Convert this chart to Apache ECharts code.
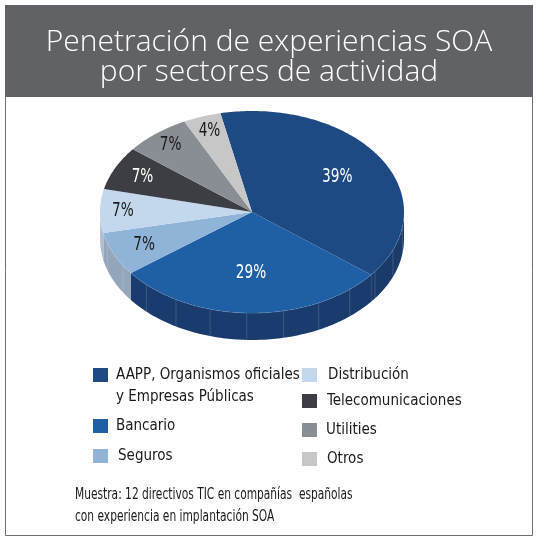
<!DOCTYPE html>
<html>
<head>
<meta charset="utf-8">
<title>Penetración de experiencias SOA</title>
<script src="https://cdn.jsdelivr.net/npm/echarts@6/dist/echarts.min.js"></script>
<style>
  html, body { margin: 0; padding: 0; background: #fff; }
  #main { width: 538px; height: 543px; }
</style>
</head>
<body>
<div id="main"></div>
<script>
// datos del grafico
var categories = ['AAPP, Organismos oficiales\ny Empresas Públicas', 'Bancario', 'Seguros', 'Distribución', 'Telecomunicaciones', 'Utilities', 'Otros'];
var values = [39, 29, 7, 7, 7, 7, 4];
var colors = ['#1d4a83', '#1f5fa5', '#8fb4d8', '#c3d8ec', '#3c3e43', '#898d94', '#c7c7c7'];
var sideColors = ['#1a3a69', '#1a3b6d', '#93a6bb', '#adbfd1', '#2f3135', '#6f7278', '#a9a9a9'];
var labelColors = ['#fff', '#fff', '#1a1a1a', '#1a1a1a', '#fff', '#1a1a1a', '#1a1a1a'];
var labelRadius = [0.66, 0.6, 0.78, 0.85, 0.8, 0.85, 0.85];

// leyenda: [izq, centro y, desplazamiento texto]
var legendPos = [[93, 375, 3], [93, 426, 3], [93, 456, 5], [302, 375, 6], [302, 401, 5], [302, 430, 4], [302, 459, 5]];

var narrow = "'DejaVu Sans Condensed', 'Liberation Sans Narrow', sans-serif";
var cx = 252, cy = 212, rx = 152, ry = 101, depth = 27, startAngle = -12;

var total = values.reduce(function (a, b) { return a + b; }, 0);
var starts = [];
var acc = startAngle;
values.forEach(function (v) { starts.push(acc); acc += v / total * 360; });

function pt(t, dy) {
    var r = t * Math.PI / 180;
    return [cx + rx * Math.sin(r), cy - ry * Math.cos(r) + (dy || 0)];
}
function arc(a, b, dy) {
    var pts = [];
    var n = Math.max(2, Math.ceil(Math.abs(b - a)));
    for (var k = 0; k <= n; k++) pts.push(pt(a + (b - a) * k / n, dy));
    return pts;
}

function renderSlice(params, api) {
    var i = params.seriesIndex;
    var a = starts[i];
    var b = a + api.value(0) / total * 360;
    var children = [];
    // lateral (solo la mitad inferior es visible)
    var sa = Math.max(a, 90), sb = Math.min(b, 270);
    if (sb > sa) {
        var pts = arc(sa, sb, 0).concat(arc(sb, sa, depth));
        children.push({ type: 'polygon', shape: { points: pts }, style: { fill: sideColors[i] }, z2: 1 });
        for (var f = Math.ceil(sa / 14) * 14; f < sb; f += 14) {
            var p0 = pt(f, 0), p1 = pt(f, depth);
            children.push({ type: 'line', shape: { x1: p0[0], y1: p0[1], x2: p1[0], y2: p1[1] },
                style: { stroke: 'rgba(255,255,255,0.22)', lineWidth: 0.7 }, z2: 2 });
        }
        children.push({ type: 'polyline', shape: { points: arc(sa, sb, 0) },
            style: { stroke: 'rgba(255,255,255,0.25)', lineWidth: 0.8, fill: null }, z2: 3 });
    }
    // cara superior
    children.push({ type: 'polygon', shape: { points: [[cx, cy]].concat(arc(a, b, 0)) },
        style: { fill: colors[i] }, z2: 4 });
    // etiqueta
    var m = (a + b) / 2 * Math.PI / 180;
    children.push({ type: 'text', z2: 5, scaleX: 0.76,
        x: cx + labelRadius[i] * rx * Math.sin(m), y: cy - labelRadius[i] * ry * Math.cos(m),
        style: { text: api.value(0) + '%', fill: labelColors[i], font: '20px ' + narrow,
            align: 'center', verticalAlign: 'middle' } });
    return { type: 'group', children: children };
}

var series = categories.map(function (c, i) {
    return {
        type: 'custom', name: c, coordinateSystem: 'none',
        itemStyle: { color: colors[i] },
        renderItem: renderSlice,
        data: [[values[i]]],
        silent: true
    };
});

var legends = categories.map(function (c, i) {
    var lines = c.split('\n').length;
    var nLines = lines > 1 ? lines + 1 : 1;
    return {
        data: [c], left: legendPos[i][0], top: legendPos[i][1] - nLines * 11,
        padding: 0, itemWidth: 15, itemHeight: 14, icon: 'rect',
        selectedMode: false,
        formatter: function (name) { return name.indexOf('\n') >= 0 ? '\n' + name : name; },
        textStyle: { fontFamily: narrow, fontSize: 15, lineHeight: 22, color: '#1a1a1a',
            padding: [0, 0, 0, legendPos[i][2]] }
    };
});

var chart = echarts.init(document.getElementById('main'));
chart.setOption({
    animation: false,
    title: {
        text: 'Penetración de experiencias SOA\npor sectores de actividad',
        left: 'center', top: 22,
        textStyle: { color: '#fff', fontFamily: 'Open Sans', fontWeight: 300, fontSize: 30, lineHeight: 30 }
    },
    graphic: [
        { type: 'rect', shape: { x: 5.5, y: 5.5, width: 527, height: 530 },
          style: { fill: null, stroke: '#707070', lineWidth: 1 }, z: -2 },
        { type: 'rect', shape: { x: 5, y: 5, width: 528, height: 92 }, style: { fill: '#616265' }, z: -1 },
        { type: 'text', x: 75, y: 484, scaleX: 0.74,
          style: { text: 'Muestra: 12 directivos TIC en compañías  españolas\ncon experiencia en implantación SOA',
              font: '16px ' + narrow, lineHeight: 22, fill: '#1a1a1a' } }
    ],
    legend: legends,
    series: series
});
</script>
</body>
</html>
